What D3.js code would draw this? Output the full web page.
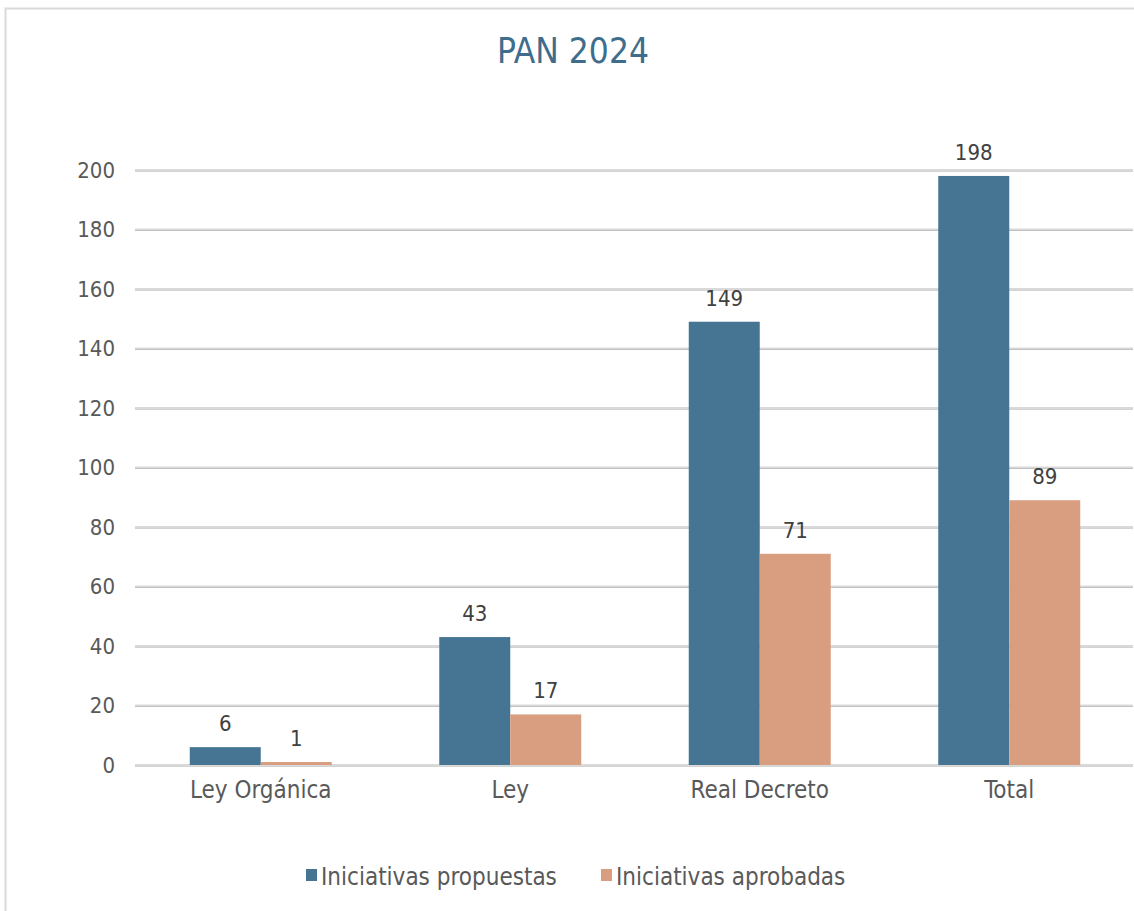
<!DOCTYPE html>
<html><head><meta charset="utf-8">
<script src="https://cdn.jsdelivr.net/npm/d3@7"></script>
<style>body{margin:0;background:#fff}svg{display:block}text{font-family:"DejaVu Sans Condensed","DejaVu Sans",sans-serif}</style>
</head><body>
<svg id="c" width="1134" height="911"></svg>
<script>
const categories = ["Ley Orgánica", "Ley", "Real Decreto", "Total"];
const seriesNames = ["Iniciativas propuestas", "Iniciativas aprobadas"];
const propuestas = [6, 43, 149, 198];
const aprobadas = [1, 17, 71, 89];
const yTicks = [0, 20, 40, 60, 80, 100, 120, 140, 160, 180, 200];
const colors = ["#467594", "#d99e80"];
const title = "PAN 2024";
const FONT = "DejaVu Sans Condensed";

const svg = d3.select("#c");
svg.append("rect").attr("x", 5.5).attr("y", 8.5).attr("width", 1140).attr("height", 920)
  .attr("fill", "#fff").attr("stroke", "#d9d9d9").attr("stroke-width", 2);

const x0 = d3.scaleBand().domain(categories).range([136, 1134]).paddingInner(0).paddingOuter(0);
const x1 = d3.scaleBand().domain(seriesNames).range([0, 142]);
const y = d3.scaleLinear().domain([0, 200]).range([765, 170]);

svg.append("text").attr("x", 573).attr("y", 63).attr("text-anchor", "middle")
  .attr("font-size", 35).attr("fill", "#3f6d8c").text(title);

// gridlines
const grid = svg.append("g");
yTicks.forEach(t => {
  grid.append("line").attr("x1", 135).attr("x2", 1133).attr("y1", y(t) + 1).attr("y2", y(t) + 1)
    .attr("stroke", "#a8a8a8").attr("stroke-width", 1);
  grid.append("line").attr("x1", 135).attr("x2", 1133).attr("y1", y(t)).attr("y2", y(t))
    .attr("stroke", "#d9d9d9").attr("stroke-width", 2);
});

// y axis labels
const yAxis = d3.axisLeft(y).tickValues(yTicks).tickSize(0).tickPadding(0);
const ga = svg.append("g").attr("transform", "translate(115,0)").call(yAxis);
ga.select(".domain").remove();
ga.selectAll("text").attr("font-size", 22).attr("fill", "#595959").attr("font-family", FONT);

// x axis labels
const xAxis = d3.axisBottom(x0).tickSize(0).tickPadding(0);
const gx = svg.append("g").attr("transform", "translate(0,778)").call(xAxis);
gx.select(".domain").remove();
gx.selectAll("text").attr("font-size", 24).attr("fill", "#595959").attr("font-family", FONT).attr("dy", "0.85em");

const data = categories.map((c, i) => ({cat: c, vals: [propuestas[i], aprobadas[i]]}));
const groups = svg.append("g").selectAll("g").data(data).join("g")
  .attr("transform", d => `translate(${x0(d.cat) + (x0.bandwidth() - 142) / 2},0)`);
groups.selectAll("rect").data(d => d.vals.map((v, j) => ({name: seriesNames[j], v, j})))
  .join("rect")
  .attr("x", d => x1(d.name)).attr("width", x1.bandwidth())
  .attr("y", d => y(d.v)).attr("height", d => y(0) - y(d.v))
  .attr("fill", d => colors[d.j]);
groups.selectAll("text").data(d => d.vals.map((v, j) => ({name: seriesNames[j], v, j})))
  .join("text")
  .attr("x", d => x1(d.name) + x1.bandwidth() / 2).attr("y", d => y(d.v) - 16)
  .attr("text-anchor", "middle").attr("font-size", 22).attr("fill", "#404040").text(d => d.v);

// legend
const leg = svg.append("g");
const legX = [306, 601];
seriesNames.forEach((s, i) => {
  leg.append("rect").attr("x", legX[i]).attr("y", 869).attr("width", 11).attr("height", 12).attr("fill", colors[i]);
  leg.append("text").attr("x", legX[i] + 15).attr("y", 885).attr("font-size", 24).attr("fill", "#595959").text(s);
});
</script>
</body></html>
